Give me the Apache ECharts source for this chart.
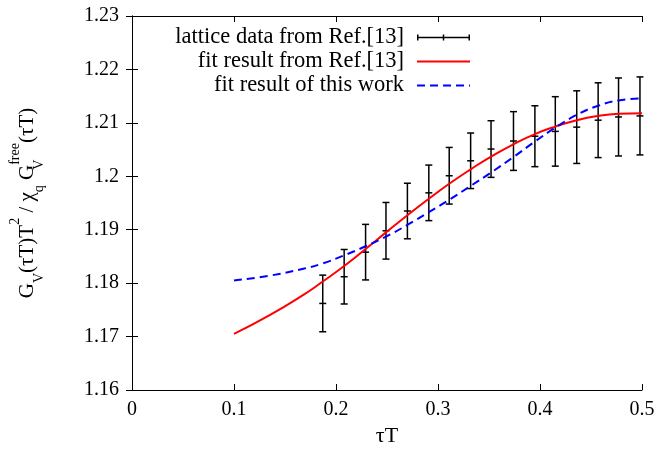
<!DOCTYPE html>
<html>
<head>
<meta charset="utf-8">
<script src="https://cdn.jsdelivr.net/npm/echarts@6/dist/echarts.min.js"></script>
<style>
  html, body { margin: 0; padding: 0; background: #fff; }
  #chart { width: 658px; height: 455px; }
</style>
</head>
<body>
<div id="chart"></div>
<script>
// lattice points (tau T, value, error)
var latticeTau = [0.187, 0.208, 0.229, 0.249, 0.270, 0.291, 0.311, 0.332, 0.352, 0.374, 0.395, 0.415, 0.436, 0.457, 0.477, 0.498];
var latticeVal = [1.1762, 1.1812, 1.1858, 1.1898, 1.1935, 1.1969, 1.2001, 1.2029, 1.2051, 1.2066, 1.2075, 1.2084, 1.2092, 1.2105, 1.2111, 1.2113];
var latticeErr = [0.0053, 0.0051, 0.0052, 0.0053, 0.0052, 0.0052, 0.0053, 0.0052, 0.0053, 0.0055, 0.0057, 0.0065, 0.0068, 0.0070, 0.0073, 0.0073];

// fit curves
var fitTau = [0.1, 0.135, 0.168, 0.187, 0.208, 0.229, 0.249, 0.270, 0.291, 0.311, 0.332, 0.352, 0.374, 0.395, 0.415, 0.436, 0.457, 0.477, 0.5];
var fitRef = [1.1705, 1.1740, 1.1778, 1.1803, 1.1832, 1.1864, 1.1895, 1.1927, 1.1958, 1.1986, 1.2013, 1.2037, 1.2060, 1.2079, 1.2093, 1.2105, 1.2113, 1.2117, 1.2118];
var fitThis = [1.1805, 1.1814, 1.1827, 1.1837, 1.1852, 1.1869, 1.1887, 1.1909, 1.1933, 1.1956, 1.1982, 1.2007, 1.2036, 1.2065, 1.2091, 1.2115, 1.2132, 1.2142, 1.2146];

var seriesNames = ['lattice data from Ref.[13]', 'fit result from Ref.[13]', 'fit result of this work'];

var serif = "'Liberation Serif', 'DejaVu Serif', serif";

var chart = echarts.init(document.getElementById('chart'));

function renderErrorBar(params, api) {
  var x = api.value(0), v = api.value(1), e = api.value(2);
  var top = api.coord([x, v + e]);
  var bot = api.coord([x, v - e]);
  var mid = api.coord([x, v]);
  var w = 3.5;
  var st = { stroke: '#000', lineWidth: 1.5 };
  return {
    type: 'group',
    children: [
      { type: 'line', shape: { x1: top[0], y1: top[1], x2: bot[0], y2: bot[1] }, style: st },
      { type: 'line', shape: { x1: top[0] - w, y1: top[1], x2: top[0] + w, y2: top[1] }, style: st },
      { type: 'line', shape: { x1: bot[0] - w, y1: bot[1], x2: bot[0] + w, y2: bot[1] }, style: st },
      { type: 'line', shape: { x1: mid[0] - w, y1: mid[1], x2: mid[0] + w, y2: mid[1] }, style: st }
    ]
  };
}

var tickStyle = { inside: true, length: 6, lineStyle: { color: '#000', width: 1 } };
var lineStyle = { lineStyle: { color: '#000', width: 1 } };

option = {
  animation: false,
  grid: { left: 132, right: 16, top: 16, bottom: 65, outerBoundsMode: 'none', containLabel: false },
  legend: {
    orient: 'vertical',
    left: 169,
    top: 26,
    padding: 0,
    align: 'right',
    itemWidth: 53,
    itemHeight: 10,
    itemGap: 1,
    data: [
      { name: seriesNames[0], icon: 'path://M0,3.25L53,3.25L53,4.75L0,4.75Z M0,1L1.5,1L1.5,7L0,7Z M51.5,1L53,1L53,7L51.5,7Z M25.75,1L27.25,1L27.25,7L25.75,7Z' },
      { name: seriesNames[1], icon: 'path://M0,0L53,0L53,2L0,2Z' },
      { name: seriesNames[2], icon: 'path://M0,0L8,0L8,2L0,2Z M13,0L21,0L21,2L13,2Z M26,0L34,0L34,2L26,2Z M39,0L47,0L47,2L39,2Z M52,0L53,0L53,2L52,2Z' }
    ],
    formatter: function (name) { return '{t|' + name + '}'; },
    textStyle: {
      rich: {
        t: { width: 235, align: 'right', padding: [0, 8, 0, 0], fontSize: 22.5, lineHeight: 22, fontFamily: serif, color: '#000' }
      }
    }
  },
  xAxis: [
    {
      type: 'value', min: 0, max: 0.5, interval: 0.1,
      name: 'τT', nameLocation: 'middle', nameGap: 35,
      nameTextStyle: { fontSize: 22, fontFamily: serif, color: '#000' },
      axisLine: lineStyle, axisTick: tickStyle, splitLine: { show: false },
      axisLabel: { fontSize: 20, fontFamily: serif, color: '#000', margin: 10 }
    },
    {
      type: 'value', position: 'top', min: 0, max: 0.5, interval: 0.1,
      axisLine: lineStyle, axisTick: tickStyle, splitLine: { show: false },
      axisLabel: { show: false }
    }
  ],
  yAxis: [
    {
      type: 'value', min: 1.16, max: 1.23, interval: 0.01,
      name: '{b|G}{s|V}{b|(τT)T}{p|2}{b| / χ}{s|q}{b| G}{z|V}{p|free}{b|(τT)}',
      nameLocation: 'middle', nameRotate: 90, nameGap: 86,
      nameTextStyle: {
        rich: {
          b: { fontSize: 21, fontFamily: serif, color: '#000', lineHeight: 38, verticalAlign: 'middle' },
          s: { fontSize: 14, fontFamily: serif, color: '#000', lineHeight: 24, verticalAlign: 'bottom' },
          z: { fontSize: 14, fontFamily: serif, color: '#000', lineHeight: 24, verticalAlign: 'bottom', width: 0 },
          p: { fontSize: 14, fontFamily: serif, color: '#000', lineHeight: 19, verticalAlign: 'top' }
        }
      },
      axisLine: lineStyle, axisTick: tickStyle, splitLine: { show: false },
      axisLabel: { fontSize: 20, fontFamily: serif, color: '#000', margin: 13 }
    },
    {
      type: 'value', position: 'right', min: 1.16, max: 1.23, interval: 0.01,
      axisLine: lineStyle, axisTick: tickStyle, splitLine: { show: false },
      axisLabel: { show: false }
    }
  ],
  series: [
    {
      name: seriesNames[0],
      type: 'custom',
      renderItem: renderErrorBar,
      itemStyle: { color: '#000' },
      encode: { x: 0, y: 1 },
      data: latticeTau.map(function (t, i) { return [t, latticeVal[i], latticeErr[i]]; })
    },
    {
      name: seriesNames[1],
      type: 'line',
      smooth: true,
      symbol: 'none',
      color: '#ff0000',
      lineStyle: { color: '#ff0000', width: 2 },
      data: fitTau.map(function (t, i) { return [t, fitRef[i]]; })
    },
    {
      name: seriesNames[2],
      type: 'line',
      smooth: true,
      symbol: 'none',
      color: '#0000ff',
      lineStyle: { color: '#0000ff', width: 2, type: [8, 5] },
      data: fitTau.map(function (t, i) { return [t, fitThis[i]]; })
    }
  ]
};

chart.setOption(option);
</script>
</body>
</html>
